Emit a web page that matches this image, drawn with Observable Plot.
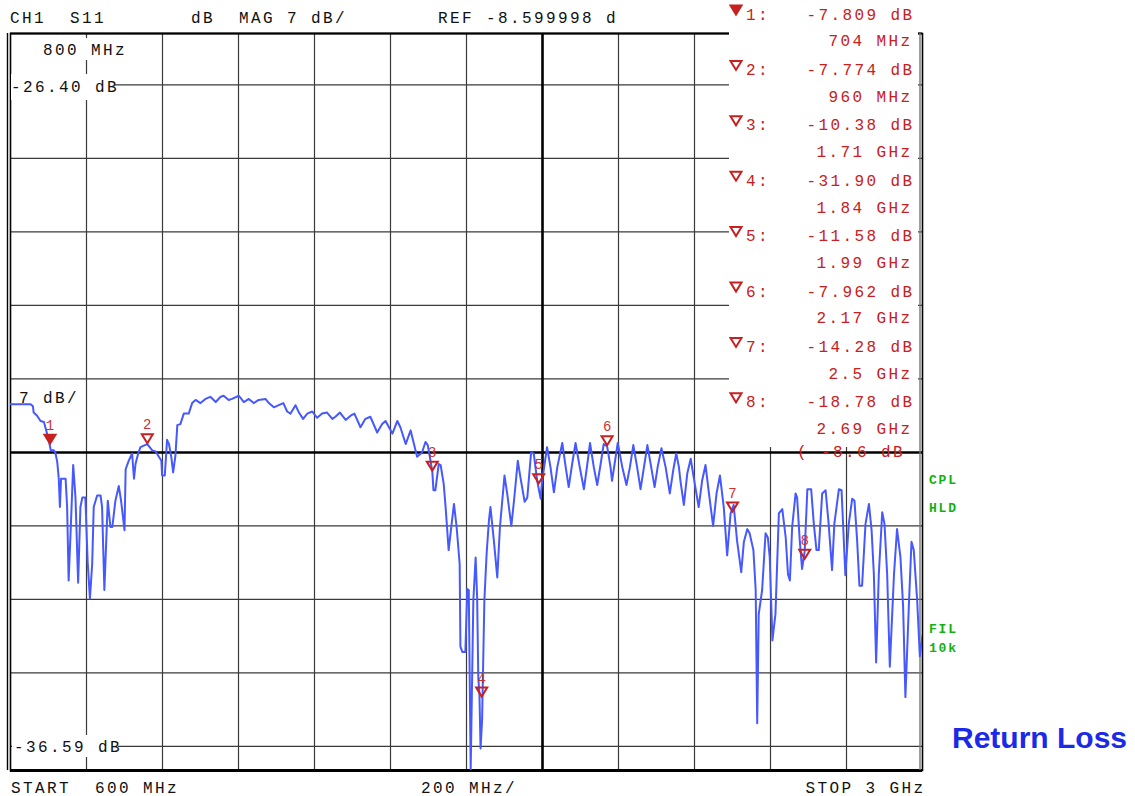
<!DOCTYPE html>
<html><head><meta charset="utf-8">
<script src="https://cdn.jsdelivr.net/npm/d3@7"></script>
<script src="https://cdn.jsdelivr.net/npm/@observablehq/plot@0.6"></script>
<style>
html,body{margin:0;padding:0;background:#fff;}
#chart svg{display:block;}
</style></head><body><div id="chart"></div>
<script>
// ---- S11 trace (frequency in MHz, magnitude in dB) ----
const freqMHz = [
 600,653,659,661,670,679,688,694,701,706,
 714,718,723,727,730,733,745,749,753,758,
 765,771,778,784,789,797,803,809,815,819,
 828,837,841,847,853,856,863,868,876,885,
 891,900,903,911,920,925,929,936,942,960,
 973,982,997,999,1006,1012,1017,1023,1028,1034,
 1039,1047,1056,1069,1078,1087,1100,1113,1126,1140,
 1153,1161,1174,1183,1201,1214,1227,1240,1253,1271,
 1280,1293,1306,1318,1328,1337,1350,1359,1370,1381,
 1394,1407,1420,1433,1447,1455,1467,1482,1495,1505,
 1521,1534,1547,1565,1578,1587,1605,1618,1626,1640,
 1653,1670,1683,1692,1698,1703,1710,1713,1718,1727,
 1732,1740,1745,1753,1758,1767,1774,1782,1784,1789,
 1797,1802,1806,1811,1818,1824,1828,1831,1834,1837,
 1841,1847,1853,1859,1863,1872,1881,1888,1900,1907,
 1918,1925,1935,1942,1953,1960,1970,1977,1986,1995,
 1999,2012,2021,2030,2039,2052,2061,2069,2078,2087,
 2098,2109,2118,2125,2135,2144,2153,2161,2170,2179,
 2183,2198,2210,2221,2230,2239,2249,2258,2267,2276,
 2286,2295,2303,2313,2324,2335,2344,2352,2359,2363,
 2372,2381,2390,2398,2411,2420,2429,2438,2449,2458,
 2467,2477,2486,2495,2503,2512,2523,2530,2539,2545,
 2555,2561,2565,2569,2578,2587,2593,2598,2605,2613,
 2622,2631,2640,2646,2651,2657,2666,2670,2677,2683,
 2690,2697,2707,2714,2721,2727,2736,2745,2753,2762,
 2768,2780,2787,2797,2806,2815,2821,2828,2834,2841,
 2850,2859,2866,2872,2878,2885,2894,2900,2907,2914,
 2925,2933,2942,2949,2955,2964,2971,2977,2986,2993,3000
];
const s11Db = [
 -4.0,-4.0,-4.2,-4.8,-5.1,-5.6,-5.7,-6.5,-7.5,-8.4,
 -8.4,-8.6,-9.5,-11.1,-13.8,-11.1,-11.1,-13.8,-20.8,-16.3,
 -9.8,-12.9,-21.0,-13.8,-12.9,-12.9,-19.0,-22.5,-19.2,-13.8,
 -12.7,-12.7,-13.8,-21.7,-16.0,-13.2,-15.7,-15.7,-13.2,-11.8,
 -13.2,-16.0,-10.2,-9.4,-8.7,-11.1,-9.7,-8.7,-8.1,-7.8,
 -8.4,-8.5,-9.4,-10.8,-10.8,-7.4,-7.8,-9.0,-10.5,-8.9,
 -6.0,-5.9,-4.9,-4.9,-3.9,-3.6,-3.9,-3.5,-3.3,-3.8,
 -3.3,-3.2,-3.6,-3.5,-3.2,-3.8,-3.5,-3.9,-3.6,-3.5,
 -3.9,-4.3,-4.1,-3.9,-4.7,-4.9,-4.1,-4.8,-5.4,-4.9,
 -4.7,-5.3,-4.9,-4.8,-5.4,-5.2,-4.8,-5.5,-5.1,-4.9,
 -6.2,-5.4,-5.2,-6.7,-5.9,-5.6,-6.8,-5.6,-6.2,-7.8,
 -6.5,-9.0,-8.6,-7.6,-7.9,-8.9,-10.4,-12.2,-12.2,-9.7,
 -9.8,-11.6,-13.8,-17.9,-16.3,-13.5,-15.7,-19.2,-27.1,-27.6,
 -27.6,-21.6,-21.7,-38.8,-22.7,-18.6,-22.4,-30.0,-31.6,-36.8,
 -34.1,-22.7,-18.2,-15.1,-13.8,-17.0,-20.5,-15.7,-10.8,-12.5,
 -15.6,-13.2,-9.4,-11.0,-13.3,-12.9,-8.6,-8.7,-11.3,-13.0,
 -11.3,-8.1,-10.0,-12.4,-10.0,-7.7,-10.0,-11.9,-9.7,-7.7,
 -10.0,-12.1,-9.7,-7.7,-10.0,-11.7,-9.7,-7.8,-8.0,-10.0,
 -11.3,-7.7,-10.0,-11.7,-10.0,-7.9,-10.0,-12.1,-10.0,-7.9,
 -10.0,-11.9,-10.0,-8.2,-10.0,-12.5,-10.3,-8.7,-10.0,-11.3,
 -13.6,-10.6,-9.2,-11.0,-13.8,-11.3,-9.8,-12.5,-15.6,-12.5,
 -10.8,-13.8,-18.4,-14.4,-13.6,-17.0,-20.0,-17.1,-15.9,-16.3,
 -17.9,-21.7,-34.4,-24.0,-21.7,-16.3,-16.7,-18.6,-26.5,-24.0,
 -14.4,-14.0,-16.7,-20.2,-20.8,-15.7,-12.5,-12.9,-17.0,-19.7,
 -18.0,-12.1,-12.1,-15.4,-17.9,-17.9,-12.5,-12.2,-15.4,-19.8,
 -15.4,-12.1,-12.2,-20.3,-15.4,-13.0,-13.2,-17.0,-21.3,-21.3,
 -15.4,-13.5,-16.0,-20.2,-28.6,-20.2,-14.3,-15.4,-20.2,-29.0,
 -20.2,-15.9,-18.6,-23.3,-31.9,-23.3,-17.1,-17.9,-22.7,-28.0,-26.0
];

// ---- markers ----
const markerFreqMHz = [704, 960, 1710, 1840, 1990, 2170, 2500, 2690];
const markerDb = [-7.809, -7.774, -10.38, -31.90, -11.58, -7.962, -14.28, -18.78];
const markerDbText = ["-7.809", "-7.774", "-10.38", "-31.90", "-11.58", "-7.962", "-14.28", "-18.78"];
const markerFreqText = ["704 MHz", "960 MHz", "1.71 GHz", "1.84 GHz", "1.99 GHz", "2.17 GHz", "2.5 GHz", "2.69 GHz"];

// ---- grid / scale settings ----
const refDb = -8.6;
const xGridMHz = [800, 1000, 1200, 1400, 1600, 1800, 2200, 2400, 2600, 2800];
const xThickMHz = [2000];
const yGridDb = [26.4, 19.4, 12.4, 5.4, -1.6, -15.6, -22.6, -29.6, -36.6];
const xDomain = [600, 3000];
const yDomain = [-38.89, 31.3];

// ---- texts ----
const headerTexts = ["CH1  S11", "dB  MAG 7 dB/", "REF -8.599998 d"];
const footerTexts = ["START  600 MHz", "200 MHz/", "STOP 3 GHz"];
const statusTexts = ["CPL", "HLD", "FIL", "10k"];

const trace = freqMHz.map((f, i) => ({f, db: s11Db[i]}));
const markers = markerFreqMHz.map((f, i) => ({n: i + 1, f, db: markerDb[i]}));

const RED = "#c82020";
const downTri = {draw(ctx) { ctx.moveTo(0, -0.5); ctx.lineTo(-5.5, -9.5); ctx.lineTo(5.5, -9.5); ctx.closePath(); }};

const plot = Plot.plot({
  width: 1135, height: 796,
  marginLeft: 10, marginRight: 213, marginTop: 33, marginBottom: 26,
  x: {domain: xDomain, axis: null},
  y: {domain: yDomain, axis: null},
  style: {background: "white", overflow: "visible"},
  marks: [
    Plot.ruleX(xGridMHz, {stroke: "#3a3a3a", strokeWidth: 1.2}),
    Plot.ruleY(yGridDb, {stroke: "#3a3a3a", strokeWidth: 1.2}),
    Plot.ruleX(xThickMHz, {stroke: "#000", strokeWidth: 2.6}),
    Plot.ruleY([refDb], {stroke: "#000", strokeWidth: 2.6}),
    Plot.frame({stroke: "#000", strokeWidth: 1.6}),
    Plot.ruleY([yDomain[0]], {stroke: "#000", strokeWidth: 3}),
    Plot.ruleY([yDomain[1]], {stroke: "#000", strokeWidth: 2}),
    Plot.ruleX([xDomain[0]], {stroke: "#000", strokeWidth: 1.4, dx: -3}),
    Plot.ruleX([xDomain[1]], {stroke: "#777", strokeWidth: 1.4, dx: -2.5}),
    Plot.line(trace, {x: "f", y: "db", stroke: "#4658ff", strokeWidth: 2, clip: true}),
    Plot.dot(markers.filter(d => d.n === 1), {x: "f", y: "db", symbol: downTri, r: 5, stroke: RED, strokeWidth: 2, fill: RED}),
    Plot.dot(markers.filter(d => d.n !== 1), {x: "f", y: "db", symbol: downTri, r: 5, stroke: RED, strokeWidth: 2, fill: "none"}),
    Plot.text(markers, {x: "f", y: "db", text: d => String(d.n), dy: -19, fill: "#d03030", fontSize: 14, fontFamily: "Liberation Mono"})
  ]
});
document.getElementById("chart").appendChild(plot);

// ---- annotation layer (instrument screen texts) ----
const svg = d3.select(plot);
const ann = svg.append("g")
  .attr("font-family", "'Liberation Mono', 'DejaVu Sans Mono', monospace")
  .attr("font-size", 16)
  .attr("text-anchor", "start")
  .style("letter-spacing", "2.4px");

// marker list panel background
ann.append("rect").attr("x", 729).attr("y", 0).attr("width", 189).attr("height", 447).attr("fill", "white");

function txt(g, s, x, y, opts = {}) {
  const t = g.append("text").attr("x", x).attr("y", y).text(s).attr("fill", opts.fill || "#111")
    .attr("text-anchor", opts.anchor || "start");
  if (opts.size) t.attr("font-size", opts.size);
  if (opts.weight) t.attr("font-weight", opts.weight);
  if (opts.family) t.attr("font-family", opts.family);
  if (opts.ls != null) t.style("letter-spacing", opts.ls + "px");
  return t;
}

// header
txt(ann, headerTexts[0], 10, 23);
txt(ann, headerTexts[1], 191, 23);
txt(ann, headerTexts[2], 438, 23);

// marker list
markers.forEach((m, i) => {
  const vb = 19.5 + i * 55.4;
  const fb = vb + 26.8;
  ann.append("path")
    .attr("d", `M730.5,${vb - 14} L741.5,${vb - 14} L736,${vb - 5} Z`)
    .attr("stroke", RED).attr("stroke-width", 2).attr("stroke-linejoin", "miter")
    .attr("fill", m.n === 1 ? RED : "none");
  txt(ann, `${m.n}:`, 746, vb, {fill: RED});
  txt(ann, `${markerDbText[i]} dB`, 914.4, vb, {fill: RED, anchor: "end"});
  txt(ann, markerFreqText[i], 912.4, fb, {fill: RED, anchor: "end"});
});
txt(ann, `( ${refDb} dB`, 797, 457, {fill: RED});

// left-side scale labels with white boxes
ann.append("rect").attr("x", 38).attr("y", 38).attr("width", 92).attr("height", 22).attr("fill", "white");
txt(ann, "800 MHz", 43, 54.5);
ann.append("rect").attr("x", 11).attr("y", 74).attr("width", 104).attr("height", 26).attr("fill", "white");
txt(ann, "-26.40 dB", 11, 91.5);
ann.append("rect").attr("x", 12).attr("y", 735).attr("width", 106).attr("height", 22).attr("fill", "white");
txt(ann, "-36.59 dB", 14, 751.5);
txt(ann, "7 dB/", 19, 402.5);

// footer
txt(ann, footerTexts[0], 11, 793);
txt(ann, footerTexts[1], 421, 793);
txt(ann, footerTexts[2], 923 + 2.4, 793, {anchor: "end"});

// status labels (green)
const statusY = [484, 512, 633, 652];
statusTexts.forEach((s, i) => txt(ann, s, 929, statusY[i], {fill: "#12b012", size: 13, weight: "bold", ls: 1.8}));

// caption
txt(ann, "Return Loss", 952, 748, {fill: "#1a2ae8", size: 30, weight: "bold", family: "'Liberation Sans', Arial, sans-serif", ls: 0});
</script>
</body></html>
